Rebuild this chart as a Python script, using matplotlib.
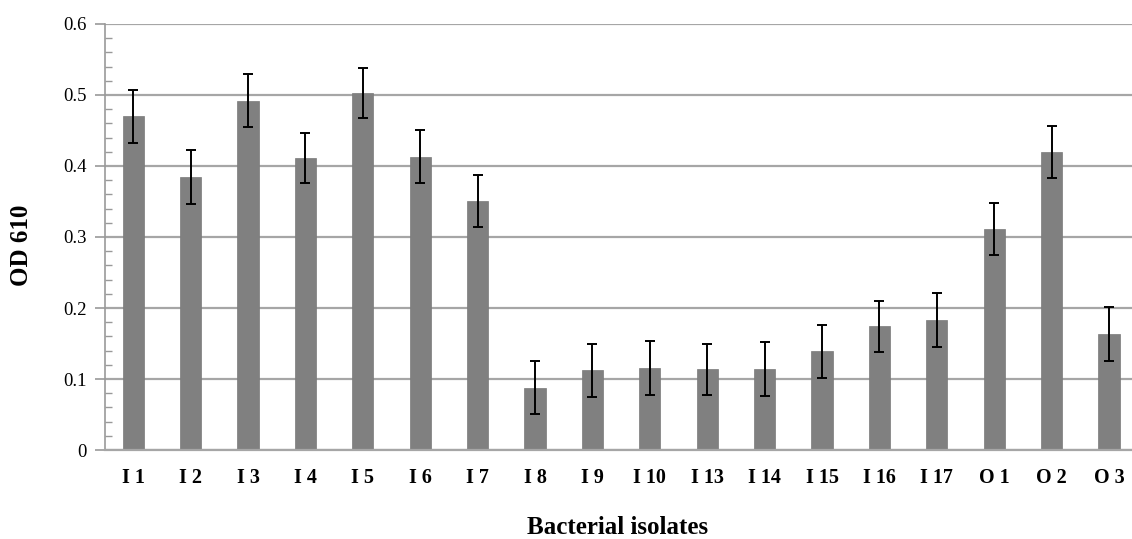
import matplotlib
matplotlib.use("Agg")
import matplotlib.pyplot as plt
from matplotlib.ticker import MultipleLocator

categories = ["I 1", "I 2", "I 3", "I 4", "I 5", "I 6", "I 7", "I 8", "I 9",
              "I 10", "I 13", "I 14", "I 15", "I 16", "I 17", "O 1", "O 2", "O 3"]
od610 = [0.470, 0.384, 0.492, 0.411, 0.503, 0.413, 0.351, 0.088, 0.112,
         0.116, 0.114, 0.114, 0.139, 0.174, 0.183, 0.311, 0.420, 0.163]
errors = [0.037, 0.038, 0.037, 0.035, 0.035, 0.037, 0.037, 0.037, 0.038,
          0.038, 0.036, 0.038, 0.037, 0.036, 0.038, 0.037, 0.037, 0.038]
y_ticks = [0, 0.1, 0.2, 0.3, 0.4, 0.5, 0.6]
y_tick_labels = ["0", "0.1", "0.2", "0.3", "0.4", "0.5", "0.6"]

plt.rcParams['font.family'] = ['Liberation Serif', 'DejaVu Serif']

fig = plt.figure(figsize=(11.32, 5.39), dpi=100)
ax = fig.add_axes([0.0924, 0.1651, 0.9126, 0.7904])

x = list(range(len(categories)))
ax.bar(x, od610, width=0.37, color="#808080", edgecolor="#7a7a7a", linewidth=0.5, zorder=2)
ax.errorbar(x, od610, yerr=errors, fmt="none", ecolor="black", elinewidth=1.4,
            capsize=3.8, capthick=1.4, zorder=3)

ax.set_xlim(-0.5, len(categories) - 0.5)
ax.set_ylim(0, 0.6)
ax.set_yticks(y_ticks)
ax.set_yticklabels(y_tick_labels, fontsize=13.5)
ax.yaxis.set_minor_locator(MultipleLocator(0.02))
ax.set_xticks(x)
ax.set_xticklabels(categories, fontsize=14.5, fontweight="bold")

ax.tick_params(axis="x", length=0, pad=13)
ax.tick_params(axis="y", which="major", length=7, width=1.2, color="#999999", direction="out", pad=6)
ax.tick_params(axis="y", which="minor", length=5, width=1.0, color="#999999", direction="in")

ax.yaxis.grid(True, which="major", color="#a6a6a6", linewidth=1.6, zorder=0)
ax.set_axisbelow(True)

for s in ["top", "right"]:
    ax.spines[s].set_visible(False)
ax.spines["left"].set_color("#999999")
ax.spines["left"].set_linewidth(1.2)
ax.spines["bottom"].set_color("#a6a6a6")
ax.spines["bottom"].set_linewidth(1.6)

ax.set_ylabel("OD 610", fontsize=18, fontweight="bold")
ax.yaxis.set_label_coords(-0.069, 0.48)
ax.set_xlabel("Bacterial isolates", fontsize=18, fontweight="bold")
ax.xaxis.set_label_coords(0.497, -0.155)

fig.savefig("out.png", dpi=100)
